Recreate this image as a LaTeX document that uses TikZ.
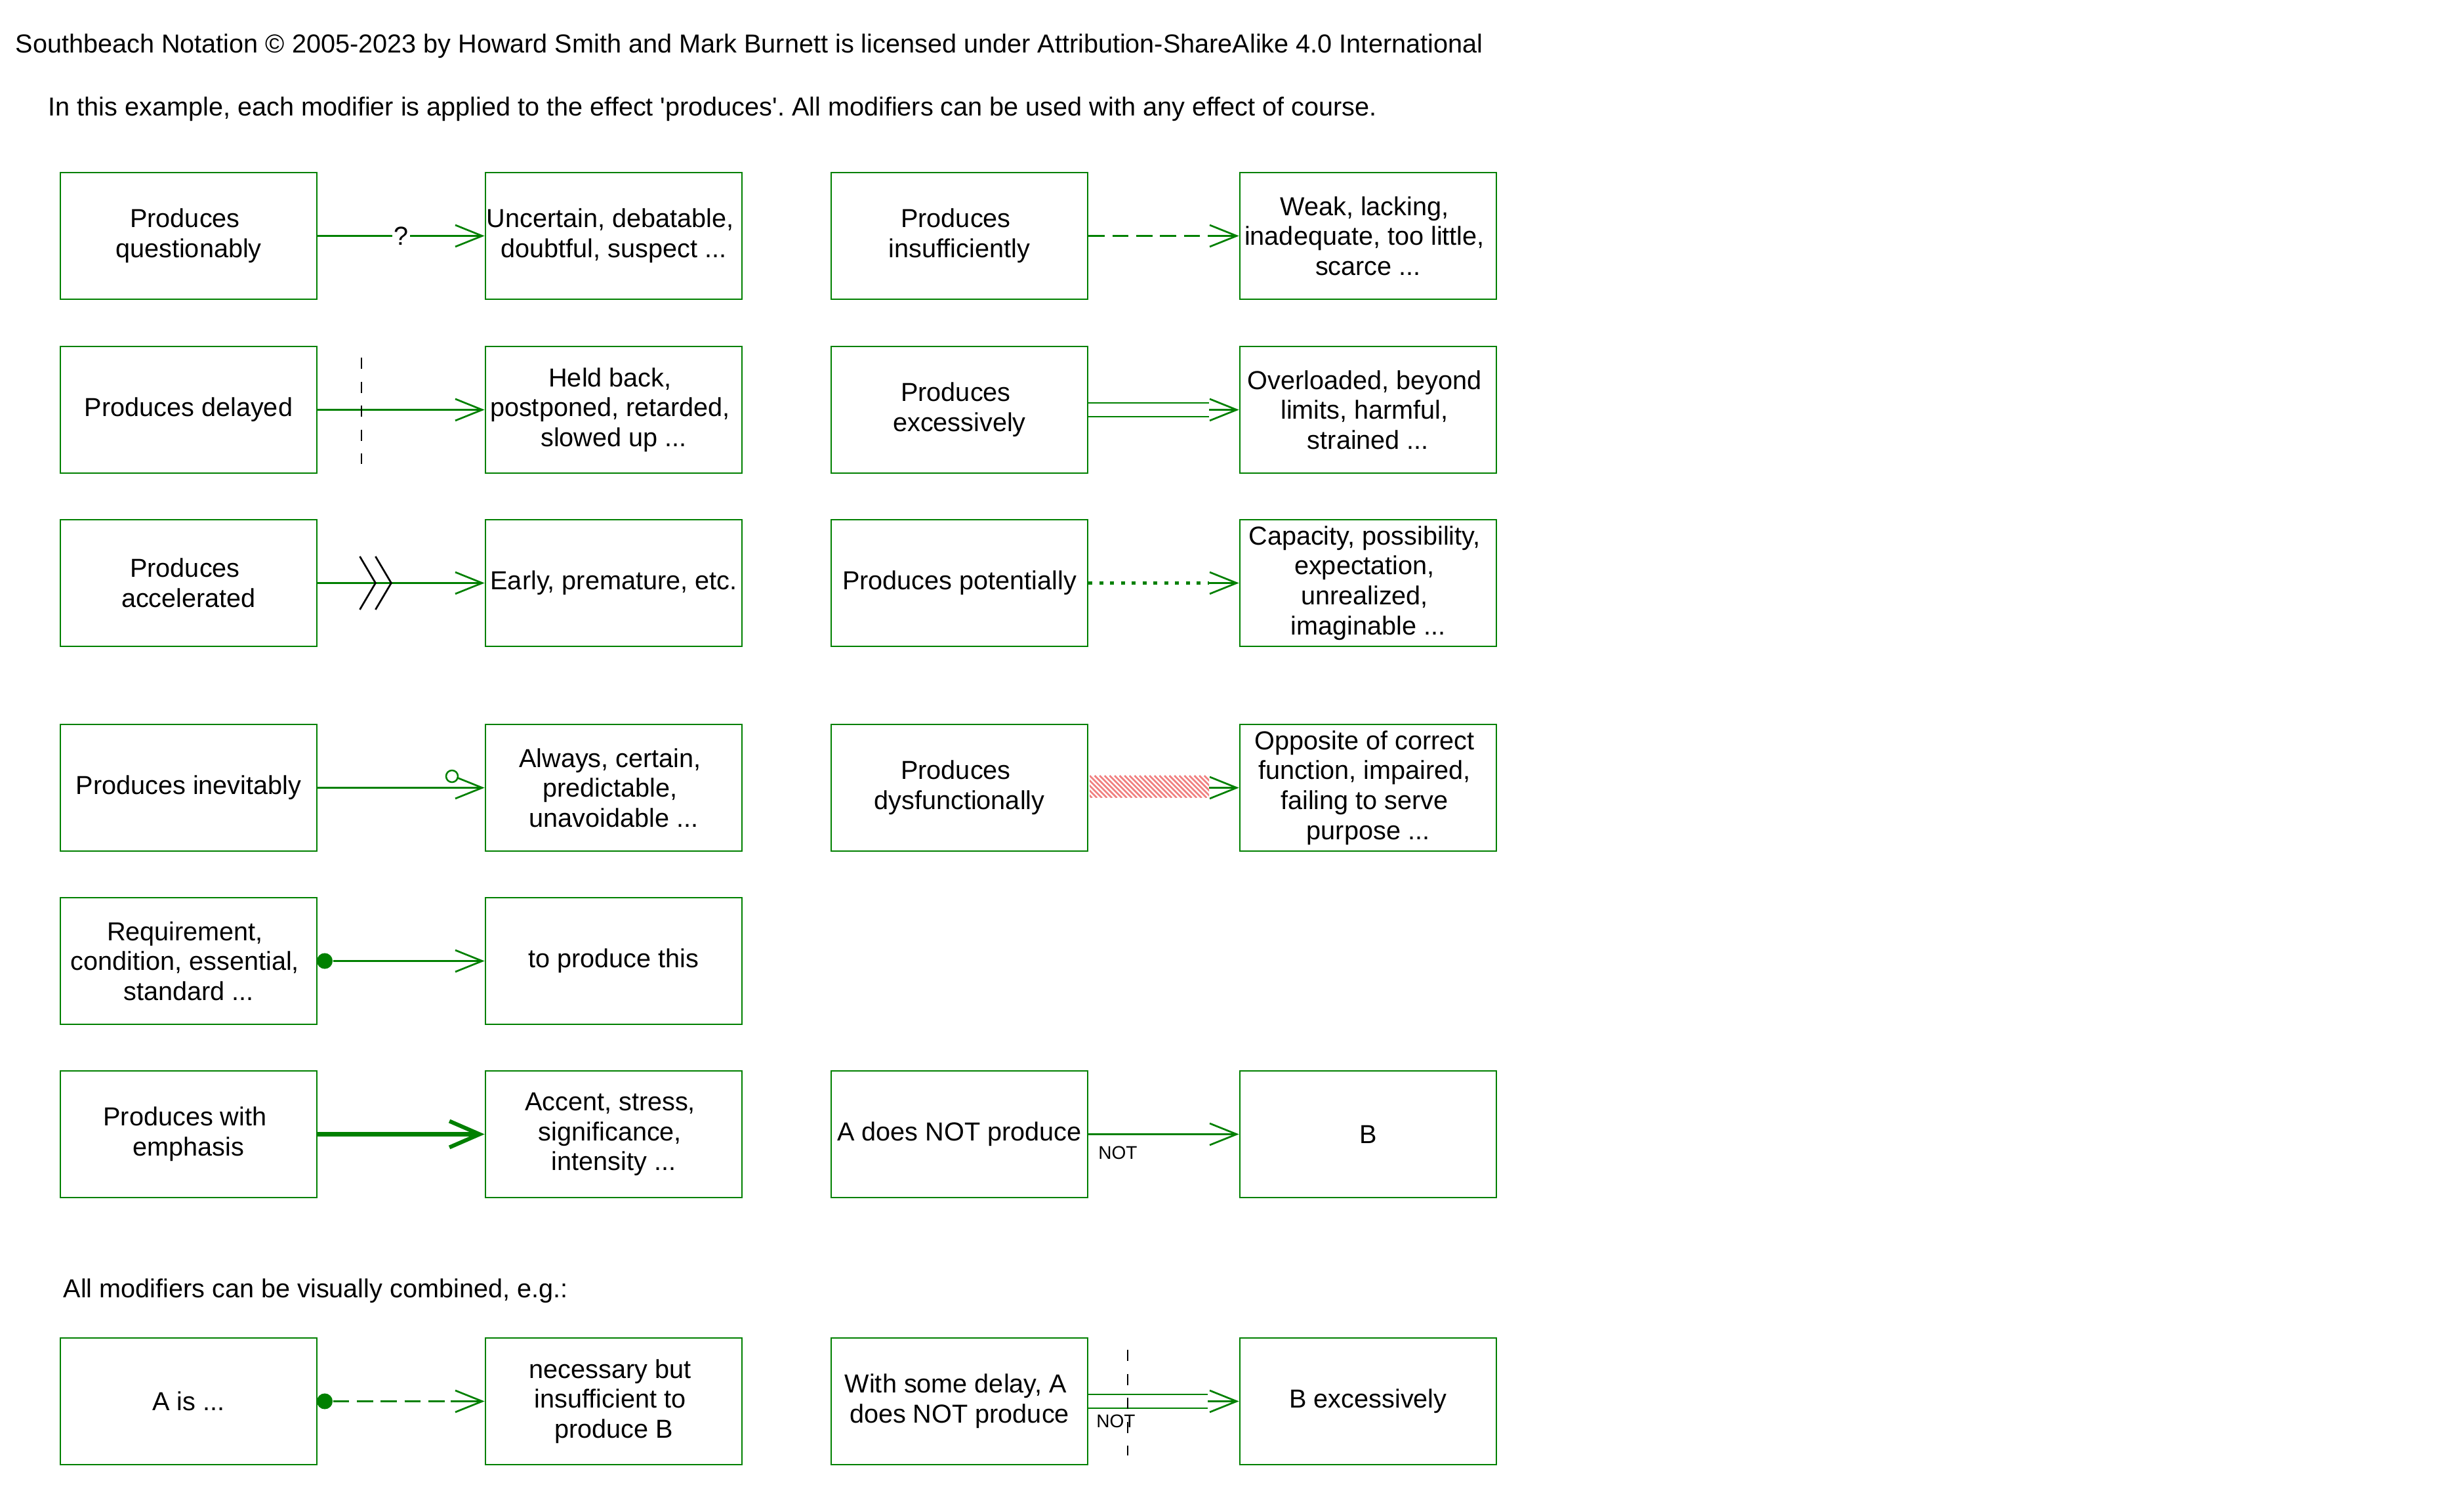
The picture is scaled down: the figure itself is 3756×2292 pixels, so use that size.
\documentclass[tikz,border=0pt]{standalone}
\usepackage{fontspec}
\setmainfont{Liberation Sans}[Ligatures=TeXOff]
\usetikzlibrary{arrows.meta}
\definecolor{sbgreen}{RGB}{0,128,0}
\definecolor{hatchred}{RGB}{240,128,128}
\newcommand\trsp{\kern.278em}
\frenchspacing
\begin{document}
\begin{tikzpicture}[x=0.01cm,y=-0.01cm,
  txt/.style={font=\fontsize{11.27pt}{12.95pt}\selectfont},
  box/.style={txt, draw=sbgreen, line width=0.025cm, minimum width=3.91cm, minimum height=1.93cm, inner sep=0pt, align=center},
  conn/.style={draw=sbgreen, line width=0.027cm},
  tip/.style={-{Straight Barb[length=0.41cm,width=0.33cm]}},
  bigtip/.style={-{Straight Barb[length=0.46cm,width=0.40cm]}},
  dashpat/.style={dash pattern=on 0.245cm off 0.118cm},
  dotpat/.style={line width=0.05cm, dash pattern=on 0.06cm off 0.105cm},
  twin/.style={double=white, double distance=0.183cm},
  blackdash/.style={draw=black, line width=0.027cm, dash pattern=on 0.17cm off 0.195cm},
  blk/.style={draw=black, line width=0.027cm},
  dot/.style={circle, fill=sbgreen, minimum size=0.24cm, inner sep=0pt},
  notlbl/.style={font=\fontsize{7.97pt}{9pt}\selectfont, inner sep=0pt},
  head/.style={txt, anchor=base west, inner sep=0pt}
]
\useasboundingbox (0,0) rectangle (3756,2292);

% header texts
\node[head] (t1) at (23,81) {Southbeach Notation © 2005-2023 by Howard Smith and Mark Burnett is licensed under Attribution-ShareAlike 4.0 International};
\node[head] (t2) at (73,177) {In this example, each modifier is applied to the effect 'produces'. All modifiers can be used with any effect of course.};
\node[head] (t3) at (96,1977) {All modifiers can be visually combined, e.g.:};

% boxes: columns 287.5, 935.5, 1462.5, 2085.5
\node[box] (b11) at (287.5,359.5) {Produces\trsp\\questionably};
\node[box] (b12) at (935.5,359.5) {Uncertain, debatable,\trsp\\doubtful, suspect ...};
\node[box] (b13) at (1462.5,359.5) {Produces\trsp\\insufficiently};
\node[box] (b14) at (2085.5,359.5) {Weak, lacking,\trsp\\inadequate, too little,\trsp\\scarce ...};

\node[box] (b21) at (287.5,624.5) {Produces delayed};
\node[box] (b22) at (935.5,624.5) {Held back,\trsp\\postponed, retarded,\trsp\\slowed up ...};
\node[box] (b23) at (1462.5,624.5) {Produces\trsp\\excessively};
\node[box] (b24) at (2085.5,624.5) {Overloaded, beyond\trsp\\limits, harmful,\trsp\\strained ...};

\node[box] (b31) at (287.5,888.5) {Produces\trsp\\accelerated};
\node[box] (b32) at (935.5,888.5) {Early, premature, etc.};
\node[box] (b33) at (1462.5,888.5) {Produces potentially};
\node[box] (b34) at (2085.5,888.5) {Capacity, possibility,\trsp\\expectation,\trsp\\unrealized,\trsp\\imaginable ...};

\node[box] (b41) at (287.5,1200.5) {Produces inevitably};
\node[box] (b42) at (935.5,1200.5) {Always, certain,\trsp\\predictable,\trsp\\unavoidable ...};
\node[box] (b43) at (1462.5,1200.5) {Produces\trsp\\dysfunctionally};
\node[box] (b44) at (2085.5,1200.5) {Opposite of correct\trsp\\function, impaired,\trsp\\failing to serve\trsp\\purpose ...};

\node[box] (b51) at (287.5,1464.5) {Requirement,\trsp\\condition, essential,\trsp\\standard ...};
\node[box] (b52) at (935.5,1464.5) {to produce this};

\node[box] (b61) at (287.5,1728.5) {Produces with\trsp\\emphasis};
\node[box] (b62) at (935.5,1728.5) {Accent, stress,\trsp\\significance,\trsp\\intensity ...};
\node[box] (b63) at (1462.5,1728.5) {A does NOT produce};
\node[box] (b64) at (2085.5,1728.5) {B};

\node[box] (b71) at (287.5,2135.5) {A is ...};
\node[box] (b72) at (935.5,2135.5) {necessary but\trsp\\insufficient to\trsp\\produce B};
\node[box] (b73) at (1462.5,2135.5) {With some delay, A\trsp\\does NOT produce};
\node[box] (b74) at (2085.5,2135.5) {B excessively};

% row 1
\draw[conn, tip] (b11) -- node[txt, fill=white, inner sep=0.02cm] (q1) {?} (b12);
\coordinate (c14) at (1841,359.5);
\draw[conn, dashpat] (b13) -- (c14);
\draw[conn, tip] (c14) -- (b14);

% row 2
\draw[conn, tip] (b21) -- (b22);
\coordinate (v2a) at (551,545);
\coordinate (v2b) at (551,707);
\draw[blackdash] (v2a) -- (v2b);
\coordinate (c24) at (1843,624.5);
\draw[conn, twin] (b23) -- (c24);
\draw[conn, tip] (c24) -- (b24);

% row 3
\draw[conn, tip] (b31) -- (b32);
\draw[blk] (548.5,848) -- (572.4,888.5) -- (548.5,929);
\draw[blk] (572.4,848) -- (596.4,888.5) -- (572.4,929);
\coordinate (c34) at (1843,888.5);
\draw[conn, dotpat] (b33) -- (c34);
\draw[conn, tip] (c34) -- (b34);

% row 4
\draw[conn, tip] (b41) -- (b42);
\node[circle, draw=sbgreen, fill=white, line width=0.025cm, minimum size=0.18cm, inner sep=0pt] (o4) at (689,1183) {};
\begin{scope}
  \clip (1661,1182) rectangle (1843,1216);
  \foreach \i in {-6,...,25} \draw[hatchred, line width=0.027cm] ({1661+\i*7.6},1182) -- ++(34,34);
\end{scope}
\coordinate (c44) at (1843,1200.5);
\draw[conn, tip] (c44) -- (b44);

% row 5
\node[dot] (d5) at (495,1464.5) {};
\draw[conn, tip] (d5) -- (b52);

% row 6
\draw[conn, line width=0.06cm, bigtip] (b61) -- (b62);
\draw[conn, tip] (b63) -- (b64);
\node[notlbl] (n6) at (1704,1757) {NOT};

% row 7
\node[dot] (d7) at (495,2135.5) {};
\coordinate (c72) at (687,2135.5);
\draw[conn, dashpat] (d7.east) -- (c72);
\draw[conn, tip] (c72) -- (b72);
\coordinate (c74) at (1841,2135.5);
\draw[conn, twin] (b73) -- (c74);
\draw[conn, tip] (c74) -- (b74);
\node[notlbl] (n7) at (1701,2166) {NOT};
\coordinate (v7a) at (1719,2057);
\coordinate (v7b) at (1719,2218);
\draw[blackdash] (v7a) -- (v7b);
\end{tikzpicture}
\end{document}
